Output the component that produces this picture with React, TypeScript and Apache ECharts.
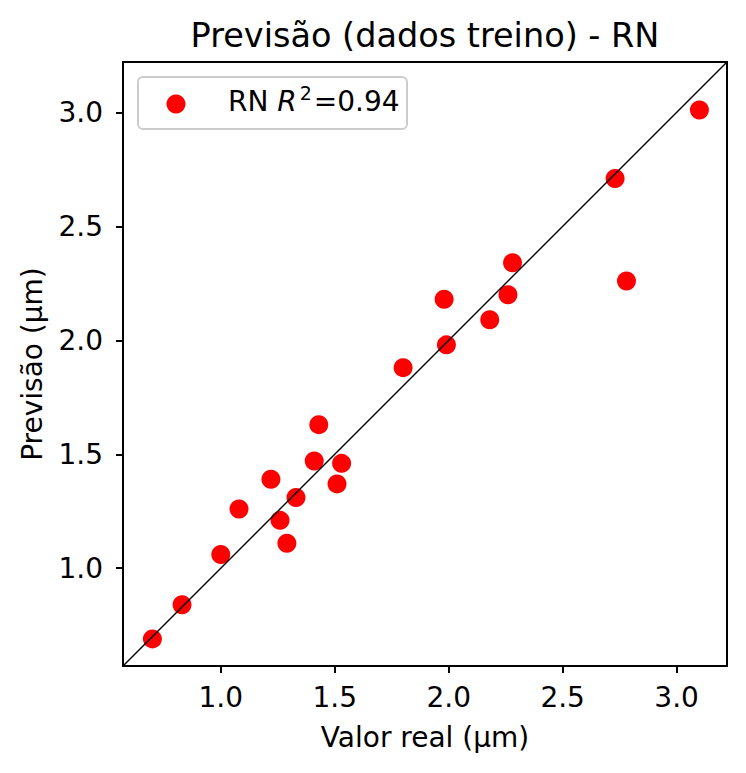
import React, { useEffect, useRef } from 'react';
import * as echarts from 'echarts';

// valores (treino)
const realValues = [0.70, 0.83, 1.00, 1.08, 1.22, 1.26, 1.29, 1.33, 1.41, 1.43, 1.51, 1.53, 1.80, 1.98, 1.99, 2.18, 2.26, 2.28, 2.73, 2.78, 3.10];
const predictedValues = [0.69, 0.84, 1.06, 1.26, 1.39, 1.21, 1.11, 1.31, 1.47, 1.63, 1.37, 1.46, 1.88, 2.18, 1.98, 2.09, 2.20, 2.34, 2.71, 2.26, 3.01];
const tickValues = [1.0, 1.5, 2.0, 2.5, 3.0];
const axisMin = 0.571;
const axisMax = 3.221;
const r2Text = '0.94';

const FONT = 'DejaVu Sans';

const App: React.FC = () => {
  const chartRef = useRef<HTMLDivElement>(null);

  useEffect(() => {
    if (!chartRef.current) return;
    const chart = echarts.init(chartRef.current, null, { renderer: 'svg' });

    const axisCommon = {
      type: 'value' as const,
      min: axisMin,
      max: axisMax,
      splitLine: { show: false },
      axisLine: { show: true, lineStyle: { color: '#000', width: 2 } },
      axisTick: {
        show: true,
        inside: false,
        length: 7,
        customValues: tickValues,
        lineStyle: { color: '#000', width: 2 },
      },
      nameLocation: 'middle' as const,
      nameTextStyle: { fontFamily: FONT, fontSize: 28, color: '#000' },
    };

    const option: echarts.EChartsOption = {
      animation: false,
      backgroundColor: '#fff',
      title: {
        text: 'Previsão (dados treino) - RN',
        left: 425,
        top: 18,
        padding: 0,
        textAlign: 'center',
        textStyle: { fontFamily: FONT, fontSize: 33.5, fontWeight: 'normal', color: '#000' },
      },
      grid: {
        left: 123,
        right: 19,
        top: 62,
        bottom: 107,
        show: true,
        borderColor: '#000',
        borderWidth: 2,
        backgroundColor: 'transparent',
      },
      xAxis: {
        ...axisCommon,
        name: 'Valor real (µm)',
        nameGap: 57,
        axisLabel: {
          customValues: tickValues,
          margin: 17,
          fontFamily: FONT,
          fontSize: 28,
          color: '#000',
          formatter: (v: number) => v.toFixed(1),
        },
      },
      yAxis: {
        ...axisCommon,
        name: 'Previsão (µm)',
        nameGap: 77,
        nameRotate: 90,
        axisLabel: {
          customValues: tickValues,
          margin: 20,
          fontFamily: FONT,
          fontSize: 28,
          color: '#000',
          formatter: (v: number) => v.toFixed(1),
        },
      },
      series: [
        {
          type: 'scatter',
          name: 'RN',
          data: realValues.map((x, i) => [x, predictedValues[i]]),
          symbol: 'circle',
          symbolSize: 19,
          itemStyle: { color: '#ff0000', opacity: 1 },
          z: 2,
        },
        {
          type: 'line',
          data: [
            [axisMin, axisMin],
            [axisMax, axisMax],
          ],
          symbol: 'none',
          lineStyle: { color: '#000', width: 1.4 },
          silent: true,
          z: 3,
        },
      ],
      graphic: [
        {
          type: 'rect',
          left: 137,
          top: 76,
          shape: { width: 269, height: 52, r: 5 },
          style: { fill: 'rgba(255,255,255,0.8)', stroke: '#cccccc', lineWidth: 2 },
          z: 10,
        },
        {
          type: 'circle',
          shape: { cx: 176, cy: 104, r: 9.5 },
          style: { fill: '#ff0000' },
          z: 11,
        },
        {
          type: 'text',
          x: 228,
          y: 101,
          z: 11,
          style: {
            text: `{n|RN }{i|R}{s|2}{n|=${r2Text}}`,
            verticalAlign: 'middle',
            align: 'left',
            rich: {
              n: { fontFamily: FONT, fontSize: 28, fill: '#000' },
              i: { fontFamily: FONT, fontSize: 28, fontStyle: 'italic', fill: '#000' },
              s: { fontFamily: FONT, fontSize: 19, fill: '#000', padding: [0, 2, 16, 3] },
            },
          } as any,
        },
      ],
    };

    chart.setOption(option, true);

    return () => {
      chart.dispose();
    };
  }, []);

  return (
    <div
      ref={chartRef}
      style={{ position: 'fixed', left: 0, top: 0, width: 746, height: 773, background: '#fff' }}
    />
  );
};

export default App;
